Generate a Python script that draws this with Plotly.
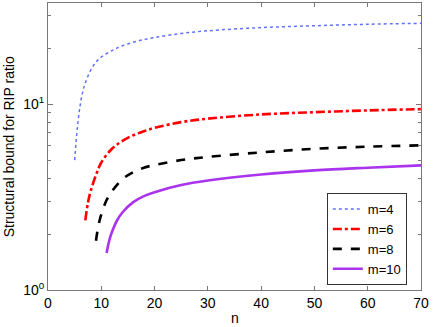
import plotly.graph_objects as go

# values (n vs structural bound)
n_m4 = [5, 5.5, 6, 6.5, 7, 8, 9, 10, 12, 14, 17, 20, 25, 30, 40, 50, 60, 70]
y_m4 = [5.0, 7.4, 9.7, 11.6, 13.0, 15.2, 16.8, 17.9, 19.4, 20.6, 21.9, 22.8, 24.0, 24.8, 25.8, 26.4, 26.9, 27.2]

n_m6 = [7, 7.5, 8, 9, 10, 12, 14, 16, 18, 20, 25, 30, 40, 50, 60, 70]
y_m6 = [2.37, 2.95, 3.4, 4.15, 4.85, 5.75, 6.35, 6.8, 7.15, 7.45, 8.0, 8.35, 8.8, 9.05, 9.25, 9.4]

n_m8 = [9, 9.5, 10, 11, 12, 14, 16, 18, 20, 25, 30, 40, 50, 60, 70]
y_m8 = [1.84, 2.25, 2.55, 3.05, 3.4, 3.95, 4.3, 4.55, 4.7, 5.0, 5.2, 5.5, 5.75, 5.9, 6.0]

n_m10 = [11, 11.5, 12, 13, 14, 16, 18, 20, 25, 30, 40, 50, 60, 70]
y_m10 = [1.58, 1.85, 2.05, 2.38, 2.62, 2.97, 3.2, 3.36, 3.67, 3.88, 4.18, 4.4, 4.55, 4.68]

x_ticks = [0, 10, 20, 30, 40, 50, 60, 70]
y_major = [1, 10]
y_minor = [2, 3, 4, 5, 6, 7, 8, 9, 20, 30]

fig = go.Figure()
fig.add_trace(go.Scatter(x=n_m4, y=y_m4, mode='lines', name='m=4', line_shape='spline',
                         line=dict(color='#6070ff', width=1.5, dash='dot')))
fig.add_trace(go.Scatter(x=n_m6, y=y_m6, mode='lines', name='m=6', line_shape='spline',
                         line=dict(color='#ff0000', width=2.6, dash='dashdot')))
fig.add_trace(go.Scatter(x=n_m8, y=y_m8, mode='lines', name='m=8', line_shape='spline',
                         line=dict(color='#000000', width=2.6, dash='dash')))
fig.add_trace(go.Scatter(x=n_m10, y=y_m10, mode='lines', name='m=10', line_shape='spline',
                         line=dict(color='#aa33ee', width=2.6)))

fig.update_layout(
    width=433, height=327,
    template='simple_white',
    plot_bgcolor='white',
    paper_bgcolor='white',
    font={'family': 'Liberation Sans, Arial', 'color': 'black', 'size': 14},
    margin={'l': 48, 'r': 12, 't': 3, 'b': 37, 'autoexpand': False},
    showlegend=True,
    legend={'x': 0.962, 'xanchor': 'right',
            'y': 0.017, 'yanchor': 'bottom',
            'bgcolor': 'white', 'bordercolor': '#333333', 'borderwidth': 1,
            'font_size': 13, 'itemwidth': 30, 'tracegroupgap': 0},
    xaxis={'range': [0, 70], 'tickvals': x_ticks, 'automargin': False,
           'ticks': 'inside', 'ticklen': 4, 'tickcolor': '#777777',
           'showline': True, 'linecolor': '#777777', 'mirror': 'ticks',
           'showgrid': False, 'zeroline': False,
           'tickfont_size': 14},
    yaxis={'type': 'log', 'range': [0, 1.544], 'automargin': False,
           'tickvals': y_major, 'ticktext': ['10<sup>0</sup>', '10<sup>1</sup>'],
           'ticks': 'inside', 'ticklen': 5, 'tickcolor': '#777777',
           'minor': {'tickvals': y_minor, 'ticks': 'inside', 'ticklen': 3, 'tickcolor': '#777777'},
           'showline': True, 'linecolor': '#777777', 'mirror': 'ticks',
           'showgrid': False, 'zeroline': False,
           'tickfont_size': 14},
)

# axis titles placed like the reference
fig.add_annotation(text='n', xref='paper', yref='paper', x=0.5, y=-0.064,
                   xanchor='center', yanchor='top', showarrow=False, font_size=14)
fig.add_annotation(text='Structural bound for RIP ratio', xref='paper', yref='paper',
                   x=-0.105, y=0.5, textangle=-90, xanchor='center', yanchor='middle',
                   showarrow=False, font_size=14)

# page body margin would shift the figure; remove it
fig.write_html("out.html", config={'displayModeBar': False},
               post_script="document.body.style.margin='0';")
